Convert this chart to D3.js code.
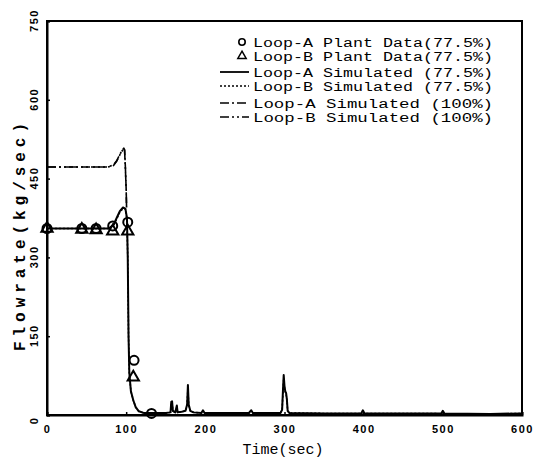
<!DOCTYPE html>
<html><head><meta charset="utf-8">
<script src="https://cdn.jsdelivr.net/npm/d3@7"></script>
<style>body{margin:0;background:#fff}svg{display:block}</style></head>
<body><svg id="c" width="537" height="463"></svg>
<script>
// ---- data ----
const xTicks = [0, 100, 200, 300, 400, 500, 600];
const yTicks = [0, 150, 300, 450, 600, 750];
const xLabel = "Time(sec)";
const yLabel = "Flowrate(kg/sec)";
const plantA = [[0,355],[44,355],[62,355],[83,360],[102,367],[110,104],[132,3]];
const plantB = [[0,355],[44,353],[62,352],[83,350],[102,350],[109,72]];
const simA775 = [[0,355],[78,355],[84,362],[88,375],[92,388],[96,395],[99,393],[101,375],[102,300],[103,150],[104,80],[106,45],[109,28],[112,15],[116,7],[122,4],[130,4],[150,4],[156,5],[157,25],[158,26],[159,8],[162,5],[164,18],[165,5],[170,6],[175,8],[177,20],[178,57],[179,20],[181,8],[185,5],[195,4],[197,9],[199,4],[220,4],[255,4],[258,9],[260,4],[295,4],[297,10],[298,45],[299,76],[300,55],[301,45],[302,42],[303,30],[304,8],[306,4],[350,3],[397,3],[399,9],[401,3],[450,3],[498,3],[500,8],[502,3],[560,2],[600,3]];
const simB775 = [[0,355],[78,355],[84,361],[88,373],[92,386],[96,393],[99,392],[101,372],[102,300],[103,150],[104,80],[106,45],[109,28],[112,15],[116,7],[122,4],[130,4],[150,4],[156,5],[157,22],[158,24],[159,8],[162,5],[164,16],[165,5],[170,6],[175,8],[177,18],[178,52],[179,18],[181,8],[185,5],[195,4],[220,4],[295,4],[297,10],[298,42],[299,70],[300,52],[301,44],[302,40],[303,28],[304,8],[306,4],[350,3],[450,3],[560,2],[600,3]];
const simA100 = [[0,472],[77,472],[84,476],[88,484],[92,496],[95,504],[97,508],[98,505],[99,472],[100,430],[100.5,395]];
const simB100 = [[0,472],[77,472],[84,475],[88,483],[92,495],[95,503],[97,507],[98,504],[99,470],[100,430],[100.5,395]];
const legendLabels = ["Loop-A Plant Data(77.5%)","Loop-B Plant Data(77.5%)","Loop-A Simulated (77.5%)","Loop-B Simulated (77.5%)","Loop-A Simulated (100%)","Loop-B Simulated (100%)"];

// ---- drawing ----
const svg = d3.select("#c");
const x = d3.scaleLinear().domain([0,600]).range([47,522]);
const y = d3.scaleLinear().domain([0,750]).range([415,21]);
const mono = "'Liberation Mono','DejaVu Sans Mono',monospace";
const tickFont = "'Liberation Sans',Arial,sans-serif";

// frame
svg.append("rect").attr("x",x(0)).attr("y",y(750)).attr("width",x(600)-x(0)).attr("height",y(0)-y(750))
  .attr("fill","none").attr("stroke","#000").attr("stroke-width",2);

// axes
const xa = svg.append("g").attr("transform",`translate(0,${y(0)})`)
  .call(d3.axisBottom(x).tickValues(xTicks).tickSize(-3).tickPadding(10).tickFormat(d3.format("d")));
const ya = svg.append("g").attr("transform",`translate(${x(0)},0)`)
  .call(d3.axisLeft(y).tickValues(yTicks).tickSize(-3).tickPadding(8).tickFormat(d3.format("d")));
[xa,ya].forEach(g=>{
  g.select(".domain").attr("stroke","#000").attr("stroke-width",2);
  g.selectAll(".tick line").attr("stroke","#000").attr("stroke-width",1.5);
  g.selectAll("text").attr("fill","#000").style("font-family",tickFont).style("font-weight","bold")
    .style("font-size","11px").style("letter-spacing","1.5px");
});
ya.selectAll(".tick").each(function(d){ d3.select(this).select("text")
  .attr("text-anchor","middle").attr("x",-13).attr("y",d===0?5:-1)
  .attr("transform",`rotate(-90,-13,${d===0?5:-1})`).attr("dy","0.35em"); });

// axis titles
svg.append("text").attr("x",283).attr("y",454).attr("text-anchor","middle")
  .style("font-family",mono).style("font-size","15px").attr("fill","#000").text(xLabel);
svg.append("text").attr("transform","translate(25,237) rotate(-90)").attr("text-anchor","middle")
  .style("font-family",mono).style("font-size","16px").style("font-weight","bold").attr("fill","#000")
  .attr("textLength",228).attr("lengthAdjust","spacing").text(yLabel);

// lines
const line = d3.line().x(d=>x(d[0])).y(d=>y(d[1]));
const styles = [
  {data:simA775, dash:null, w:2},
  {data:simB775, dash:"2,2", w:1.5},
  {data:simA100, dash:"9,3,2,3", w:1.6},
  {data:simB100, dash:"9,3,2,3,2,3", w:1.6}
];
styles.forEach(s=>{
  svg.append("path").datum(s.data).attr("d",line).attr("fill","none").attr("stroke","#000")
    .attr("stroke-width",s.w).attr("stroke-dasharray",s.dash).attr("stroke-linejoin","round");
});

// markers
const tri = d3.symbol().type(d3.symbolTriangle).size(55);
svg.selectAll(".pb").data(plantB).enter().append("path").attr("d",tri)
  .attr("transform",d=>`translate(${x(d[0])},${y(d[1])})`).attr("fill","none").attr("stroke","#000").attr("stroke-width",2);
svg.selectAll(".pa").data(plantA).enter().append("circle").attr("cx",d=>x(d[0])).attr("cy",d=>y(d[1])).attr("r",4.5)
  .attr("fill","none").attr("stroke","#000").attr("stroke-width",2);

// legend
const lg = svg.append("g");
const rowsY = [43,57,73,87,104,118];
lg.append("circle").attr("cx",242).attr("cy",rowsY[0]-1).attr("r",3.2).attr("fill","none").attr("stroke","#000").attr("stroke-width",1.6);
lg.append("path").attr("d",d3.symbol().type(d3.symbolTriangle).size(30)).attr("transform",`translate(242,${rowsY[1]-1})`)
  .attr("fill","none").attr("stroke","#000").attr("stroke-width",1.5);
const lstyles = [null,"2,2","9,3,2,3","9,3,2,3,2,3"];
lstyles.forEach((ds,i)=>{
  lg.append("line").attr("x1",220).attr("x2",249).attr("y1",rowsY[i+2]-1).attr("y2",rowsY[i+2]-1)
    .attr("stroke","#000").attr("stroke-width",i===0?1.8:1.3).attr("stroke-dasharray",ds);
});
lg.selectAll("text").data(legendLabels).enter().append("text").attr("x",253).attr("y",(d,i)=>rowsY[i]).attr("dy","0.35em")
  .style("font-family",mono).style("font-size","12.5px").attr("fill","#000")
  .attr("textLength",240).attr("lengthAdjust","spacingAndGlyphs").text(d=>d);
</script></body></html>
